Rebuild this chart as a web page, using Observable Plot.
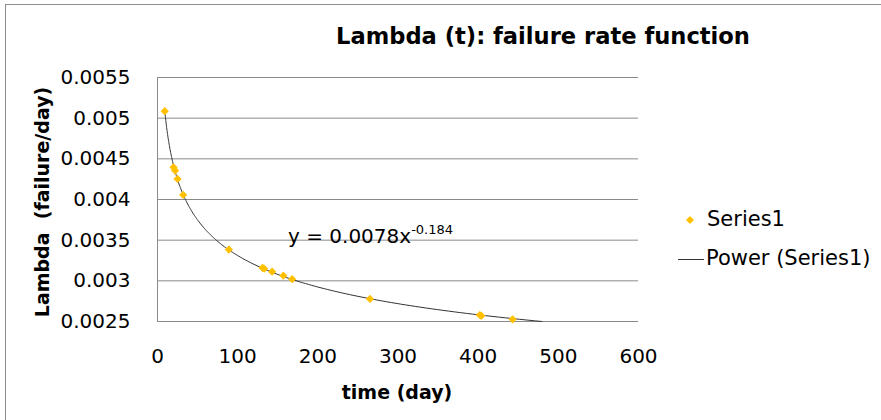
<!DOCTYPE html>
<html><head><meta charset="utf-8">
<script src="https://cdn.jsdelivr.net/npm/d3@7"></script>
<script src="https://cdn.jsdelivr.net/npm/@observablehq/plot@0.6"></script>
<style>
body{margin:0;background:#fff;}
#wrap{position:relative;width:881px;height:420px;overflow:hidden;font-family:"DejaVu Sans",sans-serif;color:#000;}
#wrap svg{position:absolute;left:0;top:0;}
.frame{position:absolute;left:5px;top:4px;width:900px;height:430px;border-top:1px solid #8c8c8c;border-left:1px solid #8c8c8c;}
.t{position:absolute;white-space:pre;line-height:1;}
</style></head>
<body>
<div id="wrap">
  <div class="frame"></div>
</div>
<script>
// ---- data ----
const time   = [9, 20, 22, 25, 32, 89, 131, 133, 143, 157, 168, 265, 402, 404, 443];
const lambda = [0.005086, 0.004396, 0.004356, 0.004253, 0.004056, 0.003384, 0.00316, 0.00315, 0.003112, 0.003064, 0.00302, 0.002778, 0.00258, 0.00257, 0.002527];
const xTicks = [0, 100, 200, 300, 400, 500, 600];
const yTicks = [0.0025, 0.003, 0.0035, 0.004, 0.0045, 0.005, 0.0055];
const yTickLabels = ["0.0025", "0.003", "0.0035", "0.004", "0.0045", "0.005", "0.0055"];
const titleText = "Lambda (t): failure rate function";
const xTitle = "time (day)";
const yTitle = "Lambda\u00a0 (failure/day)";
const eqMain = "y = 0.0078x";
const eqSup = "-0.184";
const seriesName = "Series1";
const trendName = "Power (Series1)";

const points = time.map((t, i) => ({t, v: lambda[i]}));

// power trend fitted (log-log least squares) from the points
const lx = time.map(Math.log), ly = lambda.map(Math.log);
const mx = d3.mean(lx), my = d3.mean(ly);
const b = d3.sum(lx, (v, i) => (v - mx) * (ly[i] - my)) / d3.sum(lx, v => (v - mx) ** 2);
const A = Math.exp(my - b * mx);
const tEnd = Math.pow(yTicks[0] / A, 1 / b);
const tStart = d3.min(time);
const trend = d3.range(0, 201).map(k => {
  const t = tStart * Math.pow(tEnd / tStart, k / 200);
  return {t, v: A * Math.pow(t, b)};
});

const gridColor = "#8a8a8a";

const chart = Plot.plot({
  width: 881, height: 420,
  marginLeft: 157, marginRight: 243, marginTop: 77, marginBottom: 99,
  style: {fontFamily: "DejaVu Sans, sans-serif", background: "transparent", color: "#000"},
  x: {domain: [0, 600], ticks: xTicks},
  y: {domain: [yTicks[0], yTicks[yTicks.length - 1]], ticks: yTicks},
  marks: [
    Plot.gridY(yTicks, {stroke: gridColor, strokeOpacity: 1}),
    Plot.ruleX([0], {stroke: gridColor, strokeOpacity: 1}),
    Plot.ruleY([yTicks[0]], {stroke: gridColor, strokeOpacity: 1}),
    Plot.axisX(xTicks, {tickSize: 0, tickPadding: 27, fontSize: 20, label: null, fill: "#000"}),
    Plot.axisY(yTicks, {tickSize: 0, tickPadding: 27, fontSize: 20, label: null, fill: "#000",
      tickFormat: d => yTickLabels[yTicks.indexOf(d)]}),
    Plot.line(trend, {x: "t", y: "v", stroke: "#333", strokeWidth: 1, curve: "linear"}),
    Plot.dot(points, {x: "t", y: "v", symbol: "diamond2", r: 3.7, fill: "#FFC000", stroke: "none"})
  ]
});
const wrap = document.getElementById("wrap");
wrap.appendChild(chart);

function addText(txt, css) {
  const d = document.createElement("div");
  d.className = "t";
  d.textContent = txt;
  Object.assign(d.style, css);
  wrap.appendChild(d);
  return d;
}
addText(titleText, {left: "543px", top: "25px", transform: "translateX(-50%)", fontSize: "22.6px", fontWeight: "bold"});
addText(xTitle, {left: "397px", top: "383px", transform: "translateX(-50%)", fontSize: "19px", fontWeight: "bold"});
addText(yTitle, {left: "42px", top: "202px", transform: "translate(-50%,-50%) rotate(-90deg)", fontSize: "19px", fontWeight: "bold"});

// trendline equation
const eq = addText("", {left: "288px", top: "226px", fontSize: "20px"});
eq.appendChild(document.createTextNode(eqMain));
const sup = document.createElement("span");
sup.textContent = eqSup;
Object.assign(sup.style, {fontSize: "13px", position: "relative", top: "-9px"});
eq.appendChild(sup);

// legend
const lg = document.createElementNS("http://www.w3.org/2000/svg", "svg");
lg.setAttribute("width", 881); lg.setAttribute("height", 420);
lg.style.position = "absolute"; lg.style.left = "0"; lg.style.top = "0"; lg.style.pointerEvents = "none";
lg.innerHTML = `<path d="M690,216L694,220L690,224L686,220Z" fill="#FFC000"/>
<line x1="678" y1="259.5" x2="704" y2="259.5" stroke="#333" stroke-width="1"/>`;
wrap.appendChild(lg);
addText(seriesName, {left: "707px", top: "209px", fontSize: "21px"});
addText(trendName, {left: "706px", top: "248px", fontSize: "21px"});
</script>
</body></html>
